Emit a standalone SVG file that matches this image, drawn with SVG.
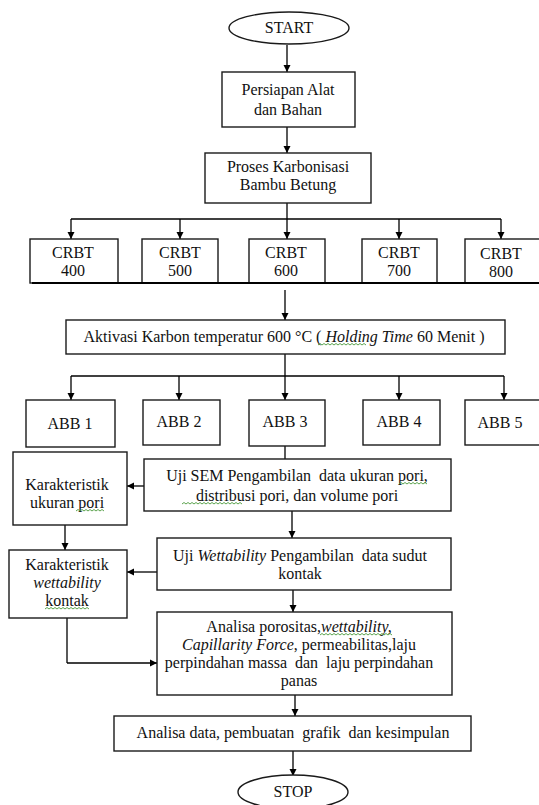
<svg xmlns="http://www.w3.org/2000/svg" width="539" height="805" viewBox="0 0 539 805">
<defs>
<marker id="ah" markerWidth="8" markerHeight="8" refX="7" refY="4" orient="auto" markerUnits="userSpaceOnUse">
<path d="M0,0.5 L7,4 L0,7.5 Z" fill="#000"/>
</marker>
<style>
.b{fill:#fff;stroke:#1a1a1a;stroke-width:1.4}
.t{font-family:'Liberation Serif','Tinos','Times New Roman','DejaVu Serif',serif;font-size:16px;fill:#111;text-anchor:middle}
.i{font-style:italic}
.c{fill:none;stroke:#000;stroke-width:1.3}
.a{fill:none;stroke:#000;stroke-width:1.3;marker-end:url(#ah)}
.sq{fill:none;stroke:#4a9a3a;stroke-width:0.9}
</style>
</defs>
<rect width="539" height="805" fill="#fff"/>

<g id="connectors">
<line class="a" x1="287" y1="45" x2="287" y2="72"/>
<line class="a" x1="287" y1="127" x2="287" y2="153"/>
<line class="c" x1="287" y1="203" x2="287" y2="219"/>
<line class="c" x1="71" y1="219" x2="501" y2="219"/>
<line class="a" x1="71" y1="219" x2="71" y2="239"/>
<line class="a" x1="180" y1="219" x2="180" y2="239"/>
<line class="a" x1="287" y1="219" x2="287" y2="239"/>
<line class="a" x1="399" y1="219" x2="399" y2="239"/>
<line class="a" x1="501" y1="219" x2="501" y2="239"/>
<line class="a" x1="285" y1="290" x2="285" y2="320"/>
<line class="c" x1="285" y1="354" x2="285" y2="376"/>
<line class="c" x1="71" y1="376" x2="504" y2="376"/>
<line class="a" x1="71" y1="376" x2="71" y2="400"/>
<line class="a" x1="179" y1="376" x2="179" y2="400"/>
<line class="a" x1="285" y1="376" x2="285" y2="400"/>
<line class="a" x1="399" y1="376" x2="399" y2="400"/>
<line class="a" x1="504" y1="376" x2="504" y2="400"/>
<line class="c" x1="285" y1="446" x2="285" y2="459"/>
<line class="a" x1="144" y1="486" x2="127" y2="486"/>
<line class="a" x1="292" y1="511" x2="292" y2="538"/>
<line class="a" x1="65" y1="525" x2="65" y2="550"/>
<line class="a" x1="157" y1="572" x2="127" y2="572"/>
<line class="a" x1="293" y1="590" x2="293" y2="612"/>
<polyline class="c" points="67,618 67,663"/>
<line class="a" x1="67" y1="663" x2="157" y2="663"/>
<line class="a" x1="295" y1="695" x2="295" y2="716"/>
<line class="a" x1="293" y1="751" x2="293" y2="776"/>
</g>

<g id="start">
<ellipse class="b" cx="289" cy="28" rx="60" ry="16"/>
<text class="t" x="289" y="33">START</text>
</g>

<g id="persiapan">
<rect class="b" x="222" y="72" width="133" height="55"/>
<text class="t" x="288" y="95">Persiapan Alat</text>
<text class="t" x="288" y="115">dan Bahan</text>
</g>

<g id="karbonisasi">
<rect class="b" x="205" y="153" width="166" height="50"/>
<text class="t" x="288" y="172">Proses Karbonisasi</text>
<text class="t" x="288" y="190">Bambu Betung</text>
</g>

<g id="crbt400">
<rect class="b" x="30" y="239" width="88" height="44"/>
<text class="t" x="73" y="258">CRBT</text>
<text class="t" x="73" y="276">400</text>
</g>
<g id="crbt500">
<rect class="b" x="142" y="239" width="76" height="44"/>
<text class="t" x="180" y="258">CRBT</text>
<text class="t" x="180" y="276">500</text>
</g>
<g id="crbt600">
<rect class="b" x="249" y="239" width="76" height="44"/>
<text class="t" x="286" y="258">CRBT</text>
<text class="t" x="286" y="276">600</text>
</g>
<g id="crbt700">
<rect class="b" x="362" y="239" width="75" height="44"/>
<text class="t" x="399" y="258">CRBT</text>
<text class="t" x="399" y="276">700</text>
</g>
<g id="crbt800">
<rect class="b" x="465" y="239" width="80" height="44"/>
<text class="t" x="501" y="259">CRBT</text>
<text class="t" x="501" y="277">800</text>
</g>
<line x1="32" y1="283" x2="539" y2="283" stroke="#000" stroke-width="2.2"/>

<g id="aktivasi">
<rect class="b" x="66" y="320" width="439" height="34"/>
<text class="t" x="284" y="342">Aktivasi Karbon temperatur 600 °C ( <tspan class="i">Holding Time</tspan> 60 Menit )</text>
</g>

<g id="abb1">
<rect class="b" x="26" y="400" width="89" height="47"/>
<text class="t" x="70" y="429">ABB 1</text>
</g>
<g id="abb2">
<rect class="b" x="143" y="400" width="77" height="45"/>
<text class="t" x="179" y="427">ABB 2</text>
</g>
<g id="abb3">
<rect class="b" x="249" y="400" width="76" height="46"/>
<text class="t" x="285" y="427">ABB 3</text>
</g>
<g id="abb4">
<rect class="b" x="363" y="400" width="77" height="45"/>
<text class="t" x="399" y="427">ABB 4</text>
</g>
<g id="abb5">
<rect class="b" x="465" y="400" width="80" height="45"/>
<text class="t" x="500" y="428">ABB 5</text>
</g>

<g id="sem">
<rect class="b" x="144" y="459" width="307" height="52"/>
<text class="t" x="297" y="481" xml:space="preserve">Uji SEM Pengambilan  data ukuran pori,</text>
<text class="t" x="297" y="501">distribusi pori, dan volume pori</text>
</g>

<g id="kar-ukuran">
<rect class="b" x="13" y="452" width="114" height="73"/>
<text class="t" x="67" y="490">Karakteristik</text>
<text class="t" x="67" y="508">ukuran pori</text>
</g>

<g id="wettability">
<rect class="b" x="157" y="538" width="294" height="52"/>
<text class="t" x="300" y="561" xml:space="preserve">Uji <tspan class="i">Wettability</tspan> Pengambilan  data sudut</text>
<text class="t" x="300" y="579">kontak</text>
</g>

<g id="kar-wett">
<rect class="b" x="9" y="550" width="118" height="68"/>
<text class="t" x="67" y="570">Karakteristik</text>
<text class="t i" x="67" y="588">wettability</text>
<text class="t" x="67" y="606">kontak</text>
</g>

<g id="analisa">
<rect class="b" x="157" y="612" width="295" height="83"/>
<text class="t" x="299" y="632">Analisa porositas,<tspan class="i">wettability,</tspan></text>
<text class="t" x="299" y="650"><tspan class="i">Capillarity Force</tspan>, permeabilitas,laju</text>
<text class="t" x="299" y="668" xml:space="preserve">perpindahan massa  dan  laju perpindahan</text>
<text class="t" x="299" y="686">panas</text>
</g>

<g id="analisa-data">
<rect class="b" x="114" y="716" width="357" height="35"/>
<text class="t" x="293" y="738" xml:space="preserve">Analisa data, pembuatan  grafik  dan kesimpulan</text>
</g>

<g id="stop">
<ellipse class="b" cx="293" cy="792" rx="55" ry="17"/>
<text class="t" x="293" y="797">STOP</text>
</g>

<g id="spellcheck-marks">
<path class="sq" d="M318,345 l2,-1.5 l2,1.5 l2,-1.5 l2,1.5 l2,-1.5 l2,1.5 l2,-1.5 l2,1.5 l2,-1.5 l2,1.5 l2,-1.5 l2,1.5 l2,-1.5 l2,1.5 l2,-1.5 l2,1.5 l2,-1.5 l2,1.5 l2,-1.5 l2,1.5 l2,-1.5 l2,1.5 l2,-1.5 l2,1.5"/>
<path class="sq" d="M399,484 l2,-1.5 l2,1.5 l2,-1.5 l2,1.5 l2,-1.5 l2,1.5 l2,-1.5 l2,1.5 l2,-1.5 l2,1.5 l2,-1.5 l2,1.5 l2,-1.5 l2,1.5"/>
<path class="sq" d="M182,504 l2,-1.5 l2,1.5 l2,-1.5 l2,1.5 l2,-1.5 l2,1.5 l2,-1.5 l2,1.5 l2,-1.5 l2,1.5 l2,-1.5 l2,1.5 l2,-1.5 l2,1.5 l2,-1.5 l2,1.5 l2,-1.5 l2,1.5 l2,-1.5 l2,1.5 l2,-1.5 l2,1.5 l2,-1.5 l2,1.5 l2,-1.5 l2,1.5 l2,-1.5 l2,1.5 l2,-1.5 l2,1.5"/>
<path class="sq" d="M76,511 l2,-1.5 l2,1.5 l2,-1.5 l2,1.5 l2,-1.5 l2,1.5 l2,-1.5 l2,1.5 l2,-1.5 l2,1.5 l2,-1.5 l2,1.5 l2,-1.5 l2,1.5"/>
<path class="sq" d="M45,609 l2,-1.5 l2,1.5 l2,-1.5 l2,1.5 l2,-1.5 l2,1.5 l2,-1.5 l2,1.5 l2,-1.5 l2,1.5 l2,-1.5 l2,1.5 l2,-1.5 l2,1.5 l2,-1.5 l2,1.5 l2,-1.5 l2,1.5 l2,-1.5 l2,1.5 l2,-1.5 l2,1.5"/>
<path class="sq" d="M320,635 l2,-1.5 l2,1.5 l2,-1.5 l2,1.5 l2,-1.5 l2,1.5 l2,-1.5 l2,1.5 l2,-1.5 l2,1.5 l2,-1.5 l2,1.5 l2,-1.5 l2,1.5 l2,-1.5 l2,1.5 l2,-1.5 l2,1.5 l2,-1.5 l2,1.5 l2,-1.5 l2,1.5 l2,-1.5 l2,1.5 l2,-1.5 l2,1.5 l2,-1.5 l2,1.5 l2,-1.5 l2,1.5 l2,-1.5 l2,1.5 l2,-1.5 l2,1.5 l2,-1.5 l2,1.5"/>
</g>
</svg>
